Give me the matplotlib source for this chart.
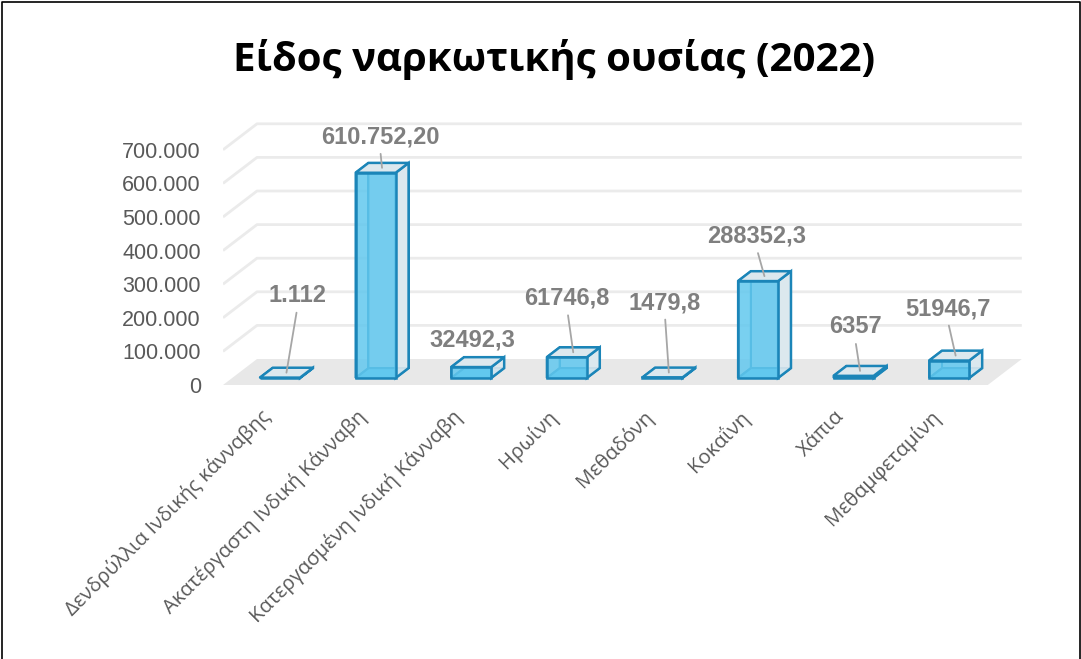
import matplotlib
matplotlib.use("Agg")
import matplotlib.pyplot as plt
from matplotlib.patches import Polygon
from matplotlib.lines import Line2D

# ---------------- data ----------------
categories = [
    "Δενδρύλλια Ινδικής κάνναβης",
    "Ακατέργαστη Ινδική Κάνναβη",
    "Κατεργασμένη Ινδική Κάνναβη",
    "Ηρωίνη",
    "Μεθαδόνη",
    "Κοκαΐνη",
    "Χάπια",
    "Μεθαμφεταμίνη",
]
values = [1112, 610752.20, 32492.3, 61746.8, 1479.8, 288352.3, 6357, 51946.7]
value_labels = ["1.112", "610.752,20", "32492,3", "61746,8", "1479,8", "288352,3", "6357", "51946,7"]
yticks = [0, 100000, 200000, 300000, 400000, 500000, 600000, 700000]
ytick_labels = ["0", "100.000", "200.000", "300.000", "400.000", "500.000", "600.000", "700.000"]
title = "Είδος ναρκωτικής ουσίας (2022)"

# ---------------- layout / style ----------------
W, H, DPI = 1081, 659, 100
PX_PER_CAT = 95.6
PX_PER_VAL = 33.6 / 100000
AX_L, AX_R, AX_B, AX_T = 223, 1030, 385, 100   # pixel box of the front plane
DEPTH_PX = (34, 26)                              # full floor depth in pixels
F0, F1 = 0.27, 0.65                              # bar front/back depth fractions
BAR_W = 0.42
# label offsets in pixels (dx, dy up) and leader flags
label_offsets = [(11, 77), (-2, 31), (-5, 22), (-6, 54), (-4, 70), (-8, 40), (-5, 44), (-8, 47)]
leader = [True, True, False, True, True, True, True, True]

EDGE = "#1B85B8"
FRONT = "#62C8EE"
SIDE = "#DCE8EE"
GRID = "#EBEBEB"
FLOOR = "#E8E8E8"
TXT = "#595959"
LBL = "#7F7F7F"

fig = plt.figure(figsize=(W / DPI, H / DPI), dpi=DPI)
ax = fig.add_axes([AX_L / W, (H - AX_B) / H, (AX_R - AX_L) / W, (AX_B - AX_T) / H])
xmin = -0.5
ax.set_xlim(xmin, xmin + (AX_R - AX_L) / PX_PER_CAT)
ax.set_ylim(0, (AX_B - AX_T) / PX_PER_VAL)
for s in ax.spines.values():
    s.set_visible(False)
ax.patch.set_visible(False)

DX = DEPTH_PX[0] / PX_PER_CAT
DY = DEPTH_PX[1] / PX_PER_VAL
n = len(categories)
xmax = n - 0.5

# floor
ax.add_patch(Polygon([(xmin, 0), (xmax, 0), (xmax + DX, DY), (xmin + DX, DY)],
                     closed=True, facecolor=FLOOR, edgecolor="none", zorder=1))
# gridlines (side + back wall)
for v in yticks[1:]:
    ax.plot([xmin, xmin + DX, xmax + DX], [v, v + DY, v + DY], color=GRID, lw=2,
            zorder=0.5, solid_capstyle="butt")

# y ticks on front plane
ax.set_yticks(yticks)
ax.set_yticklabels(ytick_labels, fontsize=15.5, color=TXT, family="Liberation Sans")
ax.tick_params(axis="y", length=0, pad=16)
ax.set_xticks([])

# bars (pseudo 3-D)
fx0, fy0 = F0 * DX, F0 * DY
ddx, ddy = (F1 - F0) * DX, (F1 - F0) * DY
lw = 1.8
for i, v in enumerate(values):
    xl = i - BAR_W / 2 + fx0
    xr = i + BAR_W / 2 + fx0
    yb = fy0
    yt = fy0 + v
    z = 3 + i * 0.01
    # back face edges (seen through)
    ax.add_patch(Polygon([(xl + ddx, yb + ddy), (xr + ddx, yb + ddy), (xr + ddx, yt + ddy), (xl + ddx, yt + ddy)],
                         closed=True, facecolor=SIDE, edgecolor=EDGE, lw=lw * 0.8, zorder=z))
    # bottom face
    ax.add_patch(Polygon([(xl, yb), (xr, yb), (xr + ddx, yb + ddy), (xl + ddx, yb + ddy)],
                         closed=True, facecolor=FRONT, edgecolor=EDGE, lw=lw * 0.8, zorder=z + 0.001))
    # left side face edges
    ax.add_patch(Polygon([(xl, yb), (xl + ddx, yb + ddy), (xl + ddx, yt + ddy), (xl, yt)],
                         closed=True, facecolor="none", edgecolor=EDGE, lw=lw * 0.8, zorder=z + 0.002))
    # right side face
    ax.add_patch(Polygon([(xr, yb), (xr + ddx, yb + ddy), (xr + ddx, yt + ddy), (xr, yt)],
                         closed=True, facecolor=SIDE, alpha=0.9, edgecolor="none", zorder=z + 0.003))
    ax.add_patch(Polygon([(xr, yb), (xr + ddx, yb + ddy), (xr + ddx, yt + ddy), (xr, yt)],
                         closed=True, facecolor="none", edgecolor=EDGE, lw=lw, zorder=z + 0.004))
    # top face
    ax.add_patch(Polygon([(xl, yt), (xr, yt), (xr + ddx, yt + ddy), (xl + ddx, yt + ddy)],
                         closed=True, facecolor=SIDE, edgecolor=EDGE, lw=lw, zorder=z + 0.005))

# front faces through the library's bar
ax.bar([i + fx0 for i in range(n)], values, width=BAR_W, bottom=fy0,
       color=FRONT, alpha=0.85, edgecolor="none", zorder=3.5)
ax.bar([i + fx0 for i in range(n)], values, width=BAR_W, bottom=fy0,
       color="none", edgecolor=EDGE, lw=lw, zorder=3.6)

# data labels with leader lines
for i, v in enumerate(values):
    ax_x = i + (F0 + F1) / 2 * DX
    ax_y = v + (F0 + F1) / 2 * DY
    dx, dy = label_offsets[i]
    ap = dict(arrowstyle="-", color="#A6A6A6", lw=1.3, shrinkA=2, shrinkB=0,
              relpos=(0.5, 0.0)) if leader[i] else None
    ax.annotate(value_labels[i], xy=(ax_x, ax_y), xytext=(dx, dy), textcoords="offset pixels",
                ha="center", va="center", fontsize=17, fontweight="bold", color=LBL,
                family="Liberation Sans", arrowprops=ap, zorder=6, annotation_clip=False)

# category labels
for i, c in enumerate(categories):
    ax.text(i - 0.03, -29 / PX_PER_VAL, c, rotation=45, rotation_mode="anchor",
            ha="right", va="center", fontsize=14.6, color=TXT, family="Open Sans", clip_on=False)

# title
fig.text(554 / W, 1 - 60 / H, title, ha="center", va="center", fontsize=29,
         fontweight="bold", color="black", family="Open Sans")

# frame
fig.add_artist(Line2D([1.5 / W, 1.5 / W, 1 - 1.5 / W, 1 - 1.5 / W], [0, 1 - 1.5 / H, 1 - 1.5 / H, 0],
                      color="black", lw=1.2, transform=fig.transFigure))

fig.savefig("out.png", dpi=DPI)
